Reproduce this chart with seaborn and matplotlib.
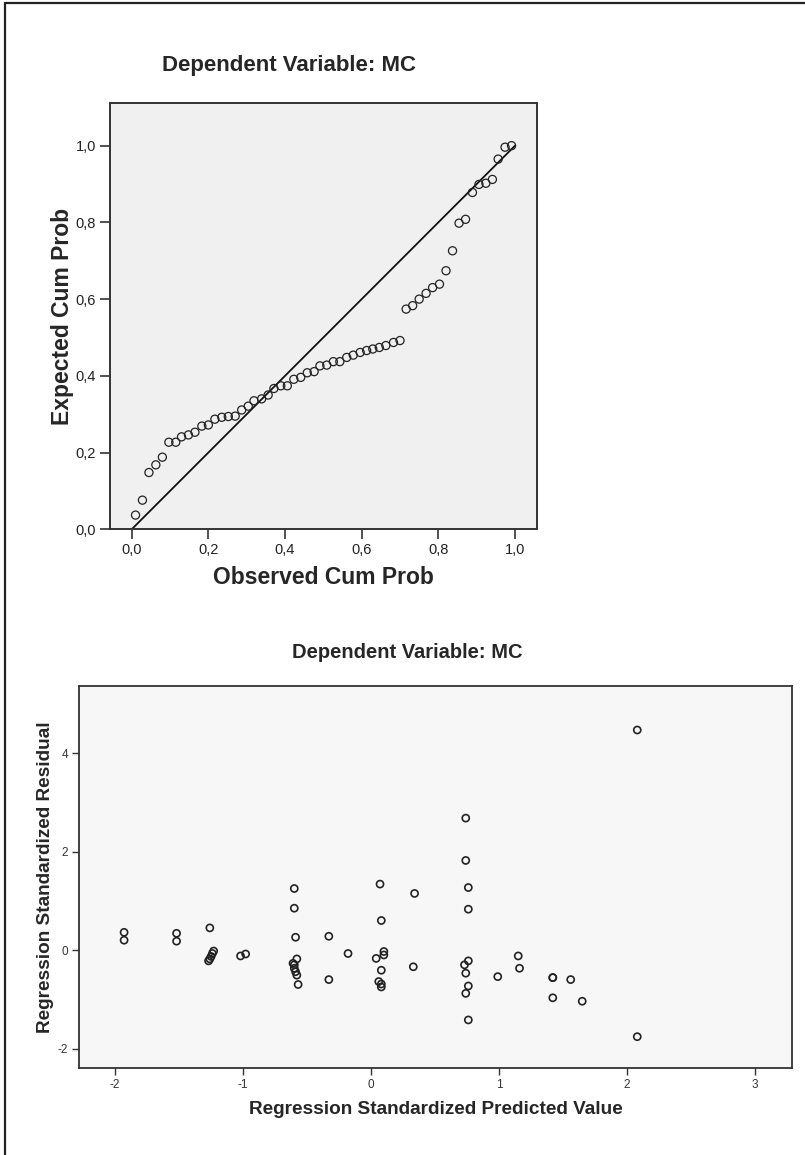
import numpy as np
import pandas as pd
import matplotlib
matplotlib.use("Agg")
import matplotlib.pyplot as plt
from matplotlib.ticker import FuncFormatter
from matplotlib.lines import Line2D
import seaborn as sns

# ---------------- data ----------------
# P-P plot (observed vs expected cumulative probability)
obs_prob = [0.010, 0.028, 0.045, 0.063, 0.080, 0.097, 0.115, 0.130, 0.148, 0.165,
            0.183, 0.200, 0.217, 0.235, 0.252, 0.270, 0.287, 0.304, 0.319, 0.339,
            0.356, 0.371, 0.389, 0.406, 0.423, 0.441, 0.458, 0.476, 0.491, 0.509,
            0.526, 0.543, 0.561, 0.578, 0.596, 0.613, 0.629, 0.646, 0.663, 0.683,
            0.700, 0.716, 0.733, 0.750, 0.768, 0.785, 0.803, 0.820, 0.837, 0.854,
            0.871, 0.889, 0.906, 0.924, 0.941, 0.956, 0.974, 0.991]
exp_prob = [0.037, 0.076, 0.148, 0.168, 0.188, 0.227, 0.227, 0.241, 0.246, 0.253,
            0.269, 0.272, 0.287, 0.292, 0.294, 0.295, 0.311, 0.321, 0.335, 0.340,
            0.350, 0.367, 0.374, 0.374, 0.391, 0.396, 0.408, 0.411, 0.426, 0.428,
            0.437, 0.437, 0.448, 0.454, 0.461, 0.466, 0.470, 0.474, 0.479, 0.487,
            0.492, 0.574, 0.583, 0.600, 0.615, 0.630, 0.639, 0.674, 0.726, 0.798,
            0.808, 0.878, 0.899, 0.902, 0.912, 0.965, 0.996, 1.000]
ref_line = [0.0, 1.0]
pp_ticks = [0.0, 0.2, 0.4, 0.6, 0.8, 1.0]

# residual scatter
pred_std = [-1.93, -1.93, -1.52, -1.52, -1.26, -1.23, -1.24, -1.25, -1.26, -1.27,
            -1.02, -0.98, -0.60, -0.60, -0.59, -0.58, -0.61, -0.60, -0.60, -0.59,
            -0.58, -0.57, -0.33, -0.33, -0.18, 0.07, 0.08, 0.04, 0.10, 0.10,
            0.08, 0.06, 0.08, 0.08, 0.34, 0.33, 2.08, 0.74, 0.74, 0.76,
            0.76, 0.76, 0.73, 0.74, 0.76, 0.74, 0.76, 0.99, 1.15, 1.16,
            1.42, 1.42, 1.42, 1.56, 1.65, 2.08]
resid_std = [0.36, 0.20, 0.34, 0.18, 0.45, -0.02, -0.07, -0.13, -0.18, -0.22,
             -0.12, -0.08, 1.25, 0.85, 0.26, -0.18, -0.27, -0.30, -0.37, -0.44,
             -0.51, -0.70, 0.28, -0.60, -0.07, 1.34, 0.60, -0.17, -0.03, -0.10,
             -0.41, -0.64, -0.69, -0.75, 1.15, -0.34, 4.47, 2.68, 1.82, 1.27,
             0.83, -0.22, -0.30, -0.47, -0.73, -0.88, -1.42, -0.54, -0.12, -0.37,
             -0.56, -0.56, -0.97, -0.60, -1.04, -1.76]
res_xticks = [-2, -1, 0, 1, 2, 3]
res_yticks = [-2, 0, 2, 4]
title_text = "Dependent Variable: MC"

# ---------------- style ----------------
W, H = 805, 1155
sns.set_style("white")
plt.rcParams["font.family"] = ["Liberation Sans", "DejaVu Sans"]
plt.rcParams["axes.unicode_minus"] = False

fig = plt.figure(figsize=(W / 100, H / 100), dpi=100)
fig.patch.set_facecolor("white")


def rect(l, t, r, b):
    return [l / W, 1 - b / H, (r - l) / W, (b - t) / H]


def fx(px):
    return px / W


def fy(py):
    return 1 - py / H


# frame lines of the page (top and left)
fig.add_artist(Line2D([fx(5), 1], [fy(3), fy(3)], color="#222222", lw=1.6))
fig.add_artist(Line2D([fx(5), fx(5)], [fy(3), 0], color="#222222", lw=1.6))

# ---------------- top: P-P plot ----------------
ax1 = fig.add_axes(rect(110, 102.7, 536.7, 529.3))
ax1.set_facecolor("#f0f0f0")
pp = pd.DataFrame({"obs": obs_prob, "exp": exp_prob})
sns.lineplot(x=ref_line, y=ref_line, ax=ax1, color="#111111", lw=1.3)
sns.scatterplot(data=pp, x="obs", y="exp", ax=ax1, marker="o", s=34,
                facecolors="none", edgecolor="#222222", linewidth=0.9, zorder=3)
ax1.set_xlim(-0.0566, 1.0566)
ax1.set_ylim(0.0, 1.112)
ax1.set_xticks(pp_ticks)
ax1.set_yticks(pp_ticks)
fmt = FuncFormatter(lambda v, p: f"{v:.1f}".replace(".", ","))
ax1.xaxis.set_major_formatter(fmt)
ax1.yaxis.set_major_formatter(fmt)
ax1.tick_params(direction="out", length=7, width=1.1, colors="#222222",
                labelsize=10.5, pad=3, bottom=True, left=True)
for sp in ax1.spines.values():
    sp.set_color("#333333")
    sp.set_linewidth(1.4)
ax1.set_xlabel("")
ax1.set_ylabel("")
fig.text(fx(289), fy(65), title_text, ha="center", va="center",
         fontsize=16, fontweight="bold")
fig.text(fx(323), fy(577), "Observed Cum Prob", ha="center", va="center",
         fontsize=16.5, fontweight="bold")
fig.text(fx(62), fy(316), "Expected Cum Prob", ha="center", va="center",
         rotation=90, fontsize=16.5, fontweight="bold")

# ---------------- bottom: residual scatter ----------------
ax2 = fig.add_axes(rect(79.3, 685.7, 791.7, 1067.7))
ax2.set_facecolor("#f7f7f7")
rs = pd.DataFrame({"pred": pred_std, "resid": resid_std})
sns.scatterplot(data=rs, x="pred", y="resid", ax=ax2, marker="o", s=26,
                facecolors="none", edgecolor="#222222", linewidth=1.2, zorder=3)
ax2.set_xlim(-2.28, 3.287)
ax2.set_ylim(-2.39, 5.37)
ax2.set_xticks(res_xticks)
ax2.set_yticks(res_yticks)
ax2.tick_params(direction="out", length=5, width=1.0, colors="#333333",
                labelsize=8.5, pad=3, bottom=True, left=True)
for sp in ax2.spines.values():
    sp.set_color("#333333")
    sp.set_linewidth(1.3)
ax2.set_xlabel("")
ax2.set_ylabel("")
fig.text(fx(407), fy(653), title_text, ha="center", va="center",
         fontsize=14.5, fontweight="bold")
fig.text(fx(435.5), fy(1110), "Regression Standardized Predicted Value",
         ha="center", va="center", fontsize=13.7, fontweight="bold")
fig.text(fx(45), fy(876.7), "Regression Standardized Residual",
         ha="center", va="center", rotation=90, fontsize=13.7, fontweight="bold")

fig.savefig("out.png", dpi=100, facecolor="white")
